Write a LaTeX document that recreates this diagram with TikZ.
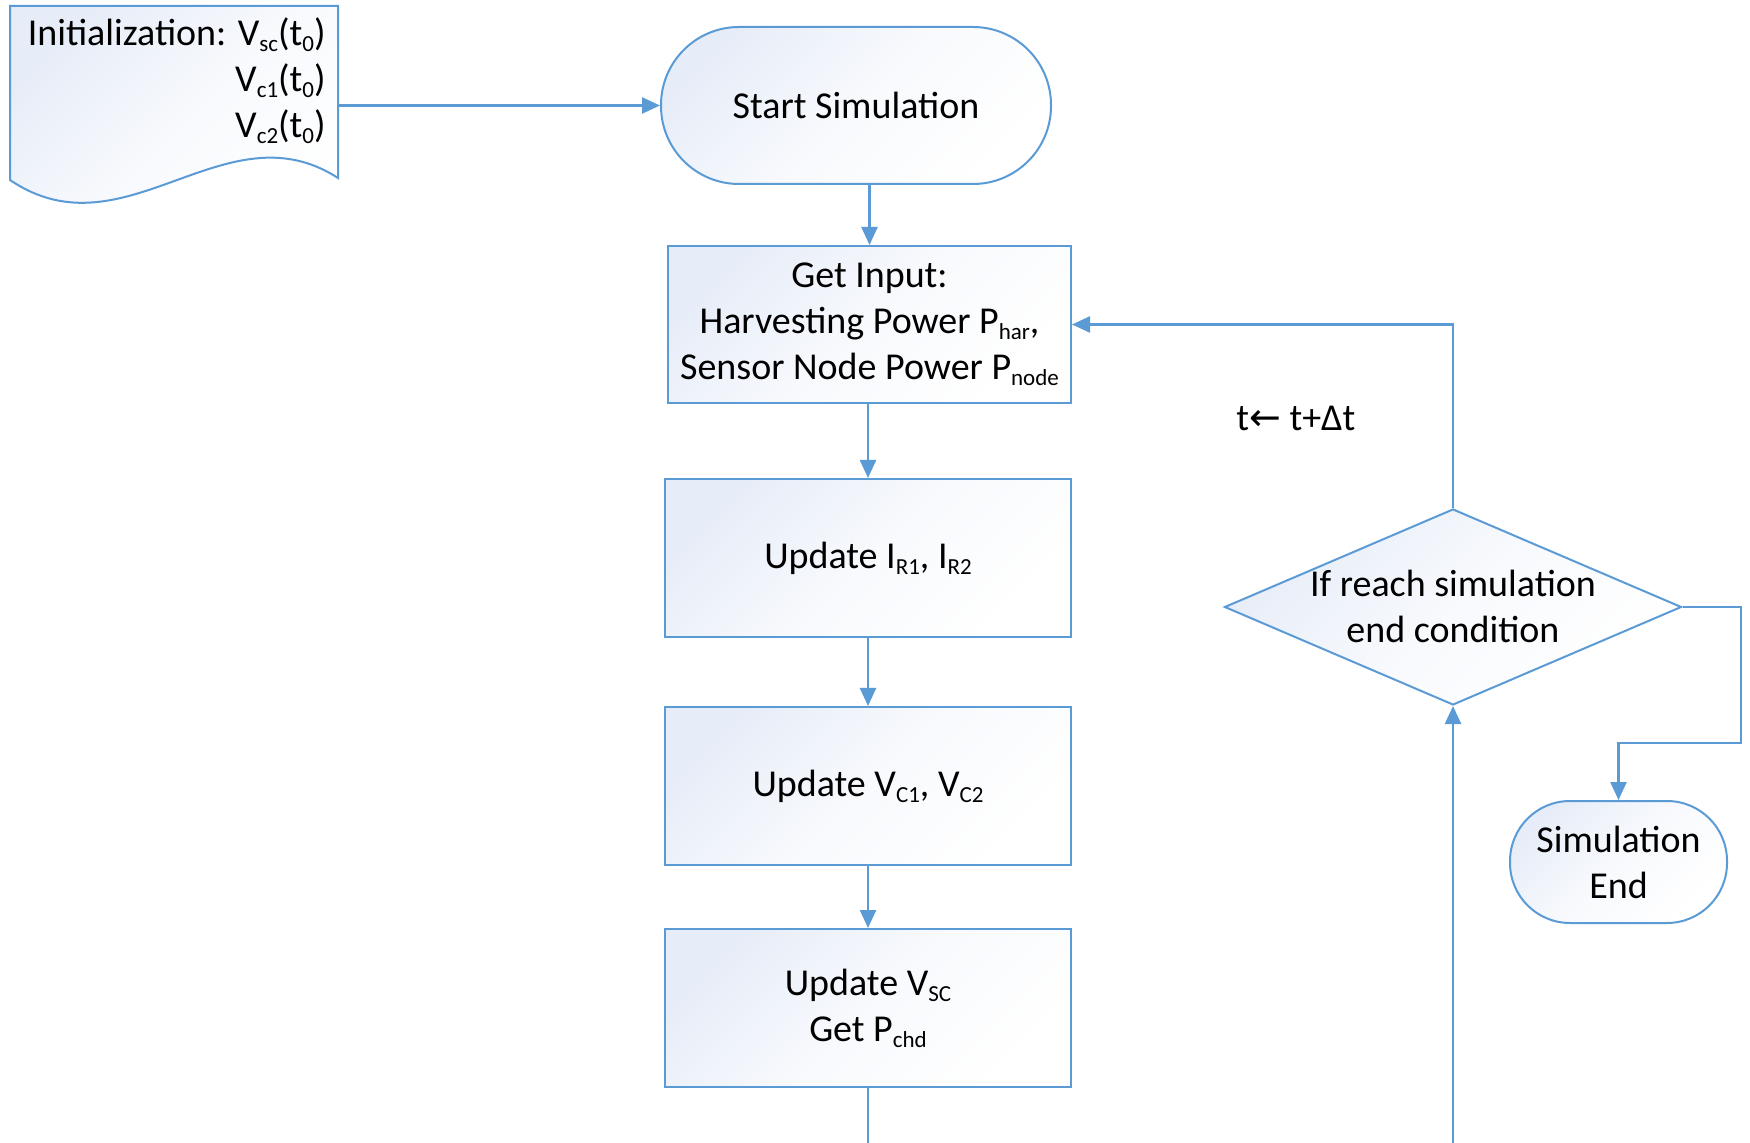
\documentclass[tikz,border=0pt]{standalone}
\usepackage{fontspec}
\setmainfont{Carlito}
\newfontfamily\symfont{DejaVu Sans}
\usetikzlibrary{shapes.geometric,arrows.meta}
\definecolor{lineblue}{RGB}{91,155,213}
\definecolor{fillblue}{RGB}{231,237,248}
\newcommand{\sbs}[1]{\raisebox{-3pt}{\fontsize{11.5}{11.5}\selectfont #1}}
\begin{document}
\begin{tikzpicture}[x=0.5pt,y=-0.5pt,
  font=\fontsize{19}{23}\selectfont,
  shadefill/.style={top color=fillblue,bottom color=white,middle color=white!70!fillblue,shading angle=45},
  box/.style={draw=lineblue,line width=1pt,shadefill,inner sep=0pt,align=center},
  arr/.style={draw=lineblue,line width=1.2pt,-{Triangle[length=9pt,width=8pt]}},
  ln/.style={draw=lineblue,line width=1.2pt}]
\fill[white] (0,0) rectangle (1750,1143);
\useasboundingbox (0,0) rectangle (1750,1143);
% document shape
\path[draw=lineblue,line width=1pt,shadefill] (10,6) -- (338,6) -- (338,178)
  .. controls (225,105) and (125,258) .. (10,180) -- cycle;
\node[minimum width=164pt,minimum height=86pt,inner sep=0pt] (doc) at (174,92) {};
\node[anchor=east,align=right,inner sep=0pt] (doctext) at (326,81)
  {Initialization: V\sbs{sc}(t\sbs{0})\\V\sbs{c1}(t\sbs{0})\\V\sbs{c2}(t\sbs{0})};
% nodes
\node[box,rounded corners=39pt,minimum width=195pt,minimum height=78.5pt] (start) at (856,105.5) {Start Simulation};
\node[box,minimum width=201.5pt,minimum height=78.5pt] (get) at (869.5,324.5)
  {Get Input:\\Harvesting Power P\sbs{har},\\Sensor Node Power P\sbs{node}};
\node[box,minimum width=203pt,minimum height=79pt] (ui) at (868,558) {Update I\sbs{R1}, I\sbs{R2}};
\node[box,minimum width=203pt,minimum height=79pt] (uv) at (868,786) {Update V\sbs{C1}, V\sbs{C2}};
\node[box,minimum width=203pt,minimum height=79pt] (usc) at (868,1008) {Update V\sbs{SC}\\Get P\sbs{chd}};
\node[diamond,draw=lineblue,line width=1pt,shadefill,minimum width=228.5pt,minimum height=98pt,inner sep=0pt] (dec) at (1453,607) {};
\node[align=center,inner sep=0pt] (dectext) at (1453,606) {If reach simulation\\end condition};
\node[box,rounded corners=30pt,minimum width=108.5pt,minimum height=61pt] (endn) at (1618.5,862) {Simulation\\End};
\node[anchor=west,inner sep=0pt] (tlab) at (1236,418) {t{\symfont ←} t+Δt};
% connectors
\coordinate (bl) at (868,1143);
\coordinate (br) at (1453,1143);
\coordinate (c1) at (1741,743);
\draw[arr] (doc.east |- start.west) -- (start.west);
\draw[arr] (get.north |- start.south) -- (get.north);
\draw[arr] (ui.north |- get.south) -- (ui.north);
\draw[arr] (ui.south) -- (uv.north);
\draw[arr] (uv.south) -- (usc.north);
\draw[ln] (usc.south) -- (bl);
\draw[arr] (br) -- (dec.south);
\draw[arr] (dec.north) |- (get.east);
\draw[arr] (dec.east) -| (c1) -| (endn.north);
\end{tikzpicture}
\end{document}
